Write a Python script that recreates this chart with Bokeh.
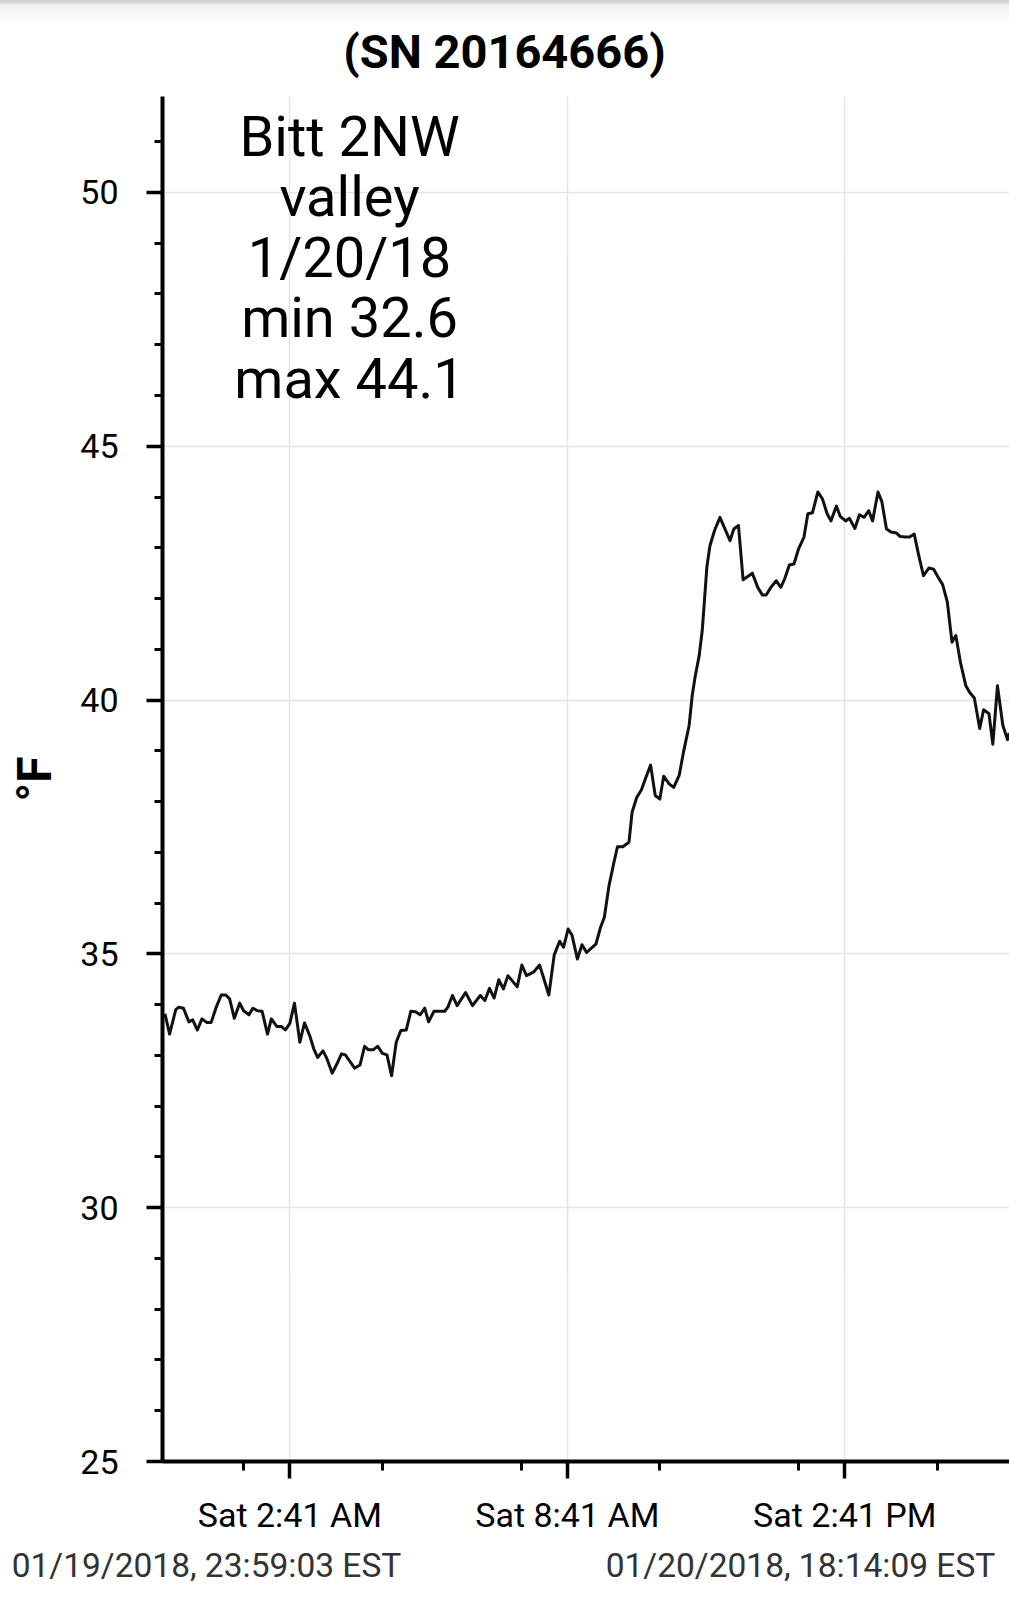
from bokeh.plotting import figure
from bokeh.models import FixedTicker, Label, Range1d, LinearAxis, Div
from bokeh.layouts import column
from bokeh.embed import file_html
from bokeh.resources import INLINE

# ---------------- data ----------------
title_text = "(SN 20164666)"
start_stamp = "01/19/2018, 23:59:03 EST"
end_stamp = "01/20/2018, 18:14:09 EST"
y_axis_title = "°F"
note_lines = ["Bitt 2NW", "valley", "1/20/18", "min 32.6", "max 44.1"]

# minutes after the first reading (23:59:03)
minutes_after_start = [
    0, 6, 14, 18, 24, 31, 36, 42, 48, 54, 60, 66, 73, 79, 84, 90, 97, 102, 109, 114,
    120, 126, 133, 138, 145, 151, 156, 162, 168, 175, 181, 188, 193, 198, 205, 210,
    217, 223, 229, 234, 241, 246, 253, 259, 264, 270, 276, 282, 288, 294, 300, 306,
    313, 319, 325, 331, 337, 342, 349, 355, 363, 367, 373, 379, 390, 399, 409, 415,
    421, 427, 433, 439, 445, 457, 463, 469, 478, 486, 498, 505, 512, 517, 523, 528,
    535, 541, 547, 559, 565, 570, 576, 582, 587, 594, 602, 606, 612, 618, 624, 630,
    636, 642, 647, 654, 660, 667, 673, 680, 684, 688, 693, 697, 700, 703, 707, 713,
    720, 733, 738, 744, 750, 762, 769, 775, 780, 786, 793, 799, 804, 810, 816, 822,
    829, 834, 840, 847, 853, 859, 864, 871, 876, 883, 888, 895, 901, 907, 913, 918,
    925, 930, 936, 942, 949, 954, 961, 966, 972, 978, 984, 991, 997, 1003, 1009, 1015,
    1018, 1021, 1026, 1032, 1039, 1044, 1050, 1057, 1062, 1069, 1074, 1080, 1087,
    1093, 1095,
]
temps_f = [
    33.82, 33.42, 33.90, 33.95, 33.93, 33.66, 33.70, 33.50, 33.72, 33.65, 33.65, 33.93,
    34.19, 34.19, 34.11, 33.73, 34.03, 33.88, 33.80, 33.93, 33.88, 33.87, 33.42, 33.72,
    33.57, 33.57, 33.50, 33.63, 34.03, 33.26, 33.64, 33.38, 33.13, 32.96, 33.09, 32.94,
    32.65, 32.83, 33.03, 33.01, 32.86, 32.75, 32.81, 33.18, 33.11, 33.11, 33.18, 33.04,
    33.01, 32.60, 33.26, 33.49, 33.50, 33.87, 33.86, 33.80, 33.93, 33.66, 33.87, 33.87,
    33.87, 33.95, 34.18, 33.98, 34.24, 33.98, 34.18, 34.08, 34.32, 34.13, 34.49, 34.31,
    34.57, 34.35, 34.78, 34.57, 34.64, 34.78, 34.19, 34.98, 35.25, 35.13, 35.49, 35.37,
    34.90, 35.18, 35.03, 35.19, 35.52, 35.72, 36.34, 36.77, 37.11, 37.11, 37.20, 37.79,
    38.08, 38.23, 38.48, 38.72, 38.12, 38.05, 38.50, 38.35, 38.28, 38.51, 39.00, 39.50,
    40.09, 40.48, 40.87, 41.37, 41.99, 42.62, 43.04, 43.34, 43.60, 43.14, 43.37, 43.44,
    42.37, 42.50, 42.22, 42.07, 42.07, 42.22, 42.35, 42.22, 42.39, 42.66, 42.68, 42.98,
    43.21, 43.67, 43.69, 44.10, 43.96, 43.67, 43.53, 43.82, 43.62, 43.53, 43.58, 43.38,
    43.65, 43.60, 43.73, 43.53, 44.10, 43.91, 43.37, 43.31, 43.29, 43.22, 43.21, 43.21,
    43.27, 42.84, 42.45, 42.60, 42.58, 42.42, 42.27, 41.93, 41.53, 41.14, 41.27, 40.74,
    40.28, 40.15, 40.04, 39.44, 39.81, 39.73, 39.13, 40.28, 39.50, 39.22, 39.35,
]

# x ticks, seconds after the first reading
x_major_ticks = [9717, 31317, 52917]
x_major_labels = ["Sat 2:41 AM", "Sat 8:41 AM", "Sat 2:41 PM"]
x_minor_ticks = [6117, 16917, 27717, 38517, 49317, 60117]
x_start, x_end = -192, 65737

y_major_ticks = [25, 30, 35, 40, 45, 50]
y_minor_ticks = list(range(25, 52))
y_start, y_end = 25, 51.89

# ---------------- layout constants ----------------
FONT = "Roboto"
W = 1009
HEAD_H = 80
FIG_H = 1600 - HEAD_H
FRAME_LEFT = 162
FRAME_TOP = 96          # page px
FRAME_BOTTOM = 1461     # page px

x_seconds = [m * 60 for m in minutes_after_start]


def page_x_to_data(px):
    return x_start + (px - FRAME_LEFT) * (x_end - x_start) / (W - FRAME_LEFT)


p = figure(width=W, height=FIG_H, output_backend="svg", toolbar_location=None,
           x_range=Range1d(x_start, x_end), y_range=Range1d(y_start, y_end),
           min_border_left=FRAME_LEFT, min_border_right=0,
           min_border_top=FRAME_TOP - HEAD_H,
           min_border_bottom=1600 - FRAME_BOTTOM)
p.outline_line_color = None
p.background_fill_color = "white"
p.border_fill_color = "white"

p.line(x_seconds, temps_f, line_color="#111111", line_width=3, line_join="round")

# axes
for ax in (p.xaxis[0], p.yaxis[0]):
    ax.axis_line_color = "black"
    ax.axis_line_width = 4
    ax.major_tick_line_color = "black"
    ax.major_tick_line_width = 3.5
    ax.minor_tick_line_color = "black"
    ax.minor_tick_line_width = 3
    ax.major_tick_in = 0
    ax.minor_tick_in = 0
    ax.major_label_text_font = FONT
    ax.major_label_text_font_size = "34px"
    ax.major_label_text_color = "black"

xa = p.xaxis[0]
xa.ticker = FixedTicker(ticks=x_major_ticks, minor_ticks=x_minor_ticks)
xa.major_label_overrides = {t: lab for t, lab in zip(x_major_ticks, x_major_labels)}
xa.major_tick_out = 17
xa.minor_tick_out = 9
xa.major_label_standoff = 16

ya = p.yaxis[0]
ya.ticker = FixedTicker(ticks=y_major_ticks, minor_ticks=y_minor_ticks)
ya.major_tick_out = 16
ya.minor_tick_out = 8
ya.major_label_standoff = 28
ya.axis_label = y_axis_title
ya.axis_label_text_font = FONT
ya.axis_label_text_font_style = "bold"
ya.axis_label_text_font_size = "48px"
ya.axis_label_text_color = "black"
ya.axis_label_standoff = 14

# start / end time stamps, drawn as a second, line-less axis below
stamp_ticks = [round(page_x_to_data(206)), round(page_x_to_data(800))]
stamp_axis = LinearAxis(ticker=FixedTicker(ticks=stamp_ticks, minor_ticks=[]),
                        major_label_overrides={stamp_ticks[0]: start_stamp,
                                               stamp_ticks[1]: end_stamp},
                        axis_line_color=None, major_tick_line_color=None,
                        minor_tick_line_color=None, major_tick_out=0, minor_tick_out=0,
                        major_label_standoff=8, major_label_text_font=FONT,
                        major_label_text_font_size="33.5px",
                        major_label_text_color="#333333")
p.add_layout(stamp_axis, "below")

p.xgrid.ticker = FixedTicker(ticks=x_major_ticks)
p.ygrid.ticker = FixedTicker(ticks=y_major_ticks)
for g in (p.xgrid[0], p.ygrid[0]):
    g.grid_line_color = "#e4e4e4"
    g.grid_line_width = 1.5

# note block
for i, line in enumerate(note_lines):
    p.add_layout(Label(x=187, y=(FRAME_BOTTOM - 136) - 60.5 * i,
                       x_units="screen", y_units="screen",
                       text=line, text_font=FONT, text_font_size="56px",
                       text_align="center", text_baseline="middle", text_color="black"))

# header: top shadow band of the phone screenshot + chart title
title_html = ('<div style="position:absolute; left:0; top:28px; width:%dpx; '
              'text-align:center; font-family:Roboto; font-weight:bold; '
              'font-size:47px; line-height:47px; color:#000; white-space:nowrap;">'
              '%s</div>' % (W, title_text))
head = Div(text=title_html, width=W, height=HEAD_H, margin=0,
           styles={"background": "linear-gradient(to bottom, #cdcdcd 0px, #d9d9d9 3px, "
                                 "#ededed 4px, #f7f7f7 12px, #ffffff 26px)",
                   "position": "relative", "overflow": "visible"})

layout = column(head, p, spacing=0)
open("out.html", "w").write(file_html(layout, INLINE))
